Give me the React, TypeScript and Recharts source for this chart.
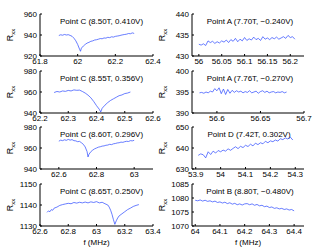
import React from "react";
import { LineChart, Line, XAxis, YAxis, Customized } from "recharts";

// Point C (8.50T, 0.410V)
const fC850 = [61.9, 61.91, 61.92, 61.93, 61.94, 61.95, 61.96, 61.97, 61.98, 61.99, 62.0, 62.01, 62.015, 62.02, 62.03, 62.04, 62.05, 62.06, 62.07, 62.08, 62.09, 62.1, 62.11, 62.12, 62.13, 62.14, 62.15, 62.16, 62.17, 62.18, 62.19, 62.2, 62.21, 62.22, 62.23, 62.24, 62.25, 62.26, 62.27, 62.28, 62.29, 62.3];
const rC850 = [939.5, 940.2, 939.8, 940.5, 940.0, 940.3, 939.6, 938.8, 937.0, 934.5, 931.0, 926.5, 924.5, 927.5, 929.5, 931.0, 932.3, 933.0, 934.0, 934.4, 935.2, 935.5, 936.0, 936.6, 936.4, 937.2, 937.0, 937.8, 937.5, 938.3, 938.0, 938.7, 939.0, 939.3, 939.8, 940.2, 940.5, 940.8, 941.4, 941.2, 942.0, 941.5];

// Point C (8.55T, 0.356V)
const fC855 = [62.25, 62.26, 62.27, 62.28, 62.29, 62.3, 62.31, 62.32, 62.33, 62.34, 62.35, 62.36, 62.37, 62.38, 62.39, 62.4, 62.41, 62.415, 62.42, 62.43, 62.44, 62.45, 62.46, 62.47, 62.48, 62.49, 62.5, 62.51, 62.52];
const rC855 = [959.5, 960.5, 960.0, 961.0, 960.6, 961.5, 961.0, 962.0, 961.6, 961.8, 960.5, 959.0, 957.0, 954.5, 951.0, 947.0, 943.5, 941.0, 944.5, 947.5, 950.0, 952.0, 953.5, 955.0, 956.5, 957.2, 958.5, 959.0, 960.0];

// Point C (8.60T, 0.296V)
const fC860 = [62.6, 62.61, 62.62, 62.63, 62.64, 62.65, 62.66, 62.67, 62.68, 62.69, 62.7, 62.71, 62.72, 62.73, 62.74, 62.75, 62.755, 62.76, 62.77, 62.78, 62.79, 62.8, 62.81, 62.82, 62.83, 62.84, 62.85, 62.86, 62.87, 62.88, 62.89, 62.9, 62.91, 62.92, 62.93, 62.94, 62.95, 62.96, 62.97, 62.98, 62.99, 63.0];
const rC860 = [966.5, 967.5, 967.0, 967.8, 967.3, 968.2, 967.5, 968.0, 967.0, 966.8, 966.0, 966.3, 965.0, 963.5, 961.0, 956.5, 951.5, 954.0, 956.5, 958.0, 959.2, 960.0, 960.8, 961.2, 961.8, 962.0, 962.6, 962.8, 963.5, 963.2, 964.0, 964.3, 964.8, 965.0, 965.6, 965.4, 966.0, 966.4, 966.2, 967.0, 966.8, 967.3];

// Point C (8.65T, 0.250V)
const fC865 = [62.65, 62.66, 62.67, 62.68, 62.69, 62.7, 62.72, 62.74, 62.76, 62.78, 62.8, 62.82, 62.84, 62.86, 62.88, 62.9, 62.92, 62.94, 62.96, 62.98, 63.0, 63.02, 63.04, 63.06, 63.08, 63.09, 63.1, 63.11, 63.12, 63.13, 63.14, 63.15, 63.16, 63.18, 63.2, 63.22, 63.24, 63.26, 63.28, 63.3];
const rC865 = [1136.5, 1137.2, 1136.8, 1137.8, 1137.5, 1138.5, 1139.0, 1139.8, 1140.2, 1140.5, 1140.8, 1140.6, 1141.2, 1140.9, 1141.3, 1141.0, 1141.4, 1141.0, 1141.5, 1141.2, 1141.6, 1141.0, 1141.3, 1140.6, 1140.0, 1139.0, 1137.5, 1135.5, 1133.0, 1130.8, 1132.5, 1133.8, 1134.8, 1135.8, 1136.8, 1137.8, 1138.5, 1139.3, 1139.8, 1140.2];

// Point A (7.70T, -0.240V)
const fA770 = [56.0, 56.005, 56.01, 56.015, 56.02, 56.025, 56.03, 56.035, 56.04, 56.045, 56.05, 56.055, 56.06, 56.065, 56.07, 56.075, 56.08, 56.085, 56.09, 56.095, 56.1, 56.105, 56.11, 56.115, 56.12, 56.125, 56.13, 56.135, 56.14, 56.145, 56.15, 56.155, 56.16, 56.165, 56.17, 56.175, 56.18, 56.185, 56.19, 56.195, 56.2, 56.205, 56.21];
const rA770 = [432.8, 432.6, 432.9, 432.5, 433.6, 433.2, 433.5, 433.0, 433.4, 433.1, 433.6, 433.3, 433.8, 433.2, 433.9, 433.5, 434.2, 433.4, 434.0, 433.6, 434.4, 433.7, 434.1, 433.8, 434.5, 433.9, 434.2, 433.7, 434.6, 434.0, 434.3, 433.9, 434.4, 434.1, 434.5, 434.0, 434.3, 434.6, 434.2, 434.9, 434.4, 434.6, 434.0];

// Point A (7.76T, -0.270V)
const fA776 = [56.58, 56.5825, 56.585, 56.5875, 56.59, 56.5925, 56.595, 56.5975, 56.6, 56.6025, 56.605, 56.6075, 56.61, 56.6125, 56.615, 56.6175, 56.62, 56.6225, 56.625, 56.6275, 56.63, 56.6325, 56.635, 56.6375, 56.64, 56.6425, 56.645, 56.6475, 56.65, 56.6525, 56.655, 56.6575, 56.66, 56.6625, 56.665, 56.6675, 56.67, 56.6725, 56.675, 56.6775, 56.68];
const rA776 = [394.8, 394.9, 394.7, 395.0, 394.8, 395.2, 395.0, 395.8, 395.3, 396.0, 394.6, 395.7, 394.4, 395.6, 394.7, 395.4, 394.9, 395.3, 395.0, 395.2, 394.8, 395.1, 394.9, 395.3, 394.8, 395.0, 395.2, 394.7, 395.1, 395.3, 394.9, 395.2, 394.8, 395.0, 395.1, 394.8, 395.0, 394.9, 395.1, 394.8, 395.0];

// Point D (7.42T, 0.302V)
const fD742 = [53.91, 53.92, 53.93, 53.94, 53.95, 53.96, 53.97, 53.98, 53.99, 54.0, 54.01, 54.02, 54.03, 54.04, 54.05, 54.06, 54.07, 54.08, 54.09, 54.1, 54.11, 54.12, 54.13, 54.14, 54.15, 54.16, 54.17, 54.18, 54.19, 54.2, 54.21, 54.22, 54.23, 54.24, 54.25, 54.26, 54.27, 54.28, 54.29];
const rD742 = [636.5, 637.2, 636.8, 635.3, 638.2, 636.9, 638.5, 637.6, 638.8, 638.2, 639.0, 638.5, 639.6, 638.9, 639.8, 640.6, 639.7, 640.8, 640.2, 641.3, 640.7, 641.8, 641.0, 642.3, 641.6, 642.5, 642.0, 643.2, 642.5, 643.4, 643.0, 643.8, 643.3, 644.4, 644.0, 644.8, 644.3, 645.2, 643.8];

// Point B (8.80T, -0.480V)
const fB880 = [64.0, 64.01, 64.02, 64.03, 64.04, 64.05, 64.06, 64.07, 64.08, 64.09, 64.1, 64.11, 64.12, 64.13, 64.14, 64.15, 64.16, 64.17, 64.18, 64.19, 64.2, 64.21, 64.22, 64.23, 64.24, 64.25, 64.26, 64.27, 64.28, 64.29, 64.3, 64.31, 64.32, 64.33, 64.34, 64.35, 64.36, 64.37, 64.38, 64.39, 64.4];
const rB880 = [1079.2, 1079.0, 1079.3, 1078.9, 1079.2, 1078.8, 1079.0, 1078.6, 1078.9, 1078.4, 1078.6, 1078.2, 1078.5, 1078.0, 1078.3, 1077.8, 1078.1, 1077.6, 1077.9, 1077.5, 1077.9, 1078.0, 1077.6, 1077.9, 1077.4, 1077.7, 1077.2, 1077.4, 1076.9, 1077.1, 1076.6, 1076.8, 1076.3, 1076.5, 1076.1, 1076.3, 1075.9, 1076.1, 1075.7, 1075.9, 1075.4];

// axis ticks
const xTicksC850 = [61.8, 62, 62.2, 62.4];
const xTicksC855 = [62.2, 62.3, 62.4, 62.5, 62.6];
const xTicksC860 = [62.6, 62.8, 63];
const xTicksC865 = [62.6, 62.8, 63, 63.2, 63.4];
const xTicksA770 = [56, 56.05, 56.1, 56.15, 56.2];
const xTicksA776 = [56.6, 56.65, 56.7];
const xTicksD742 = [53.9, 54, 54.1, 54.2, 54.3];
const xTicksB880 = [64, 64.1, 64.2, 64.3, 64.4];

const yTicksC850 = [920, 940, 960];
const yTicksC855 = [940, 960, 980];
const yTicksC860 = [940, 960, 980];
const yTicksC865 = [1130, 1140, 1150];
const yTicksA770 = [430, 435, 440];
const yTicksA776 = [390, 395, 400];
const yTicksD742 = [630, 640, 650];
const yTicksB880 = [1070, 1075, 1080, 1085];

const BOX_H = 42;
const YW = 40;
const MT = 6;
const MR = 10;
const LINE = "#2846ff";
const tickStyle = { fontSize: 8, fill: "#000" };

const zip = (f: number[], r: number[]) => f.map((v, i) => ({ f: v, r: r[i] }));

type PanelProps = {
  boxLeft: number;
  boxTop: number;
  boxW: number;
  f: number[];
  r: number[];
  xDomain: [number, number];
  xTicks: number[];
  yDomain: [number, number];
  yTicks: number[];
  title: string;
  titleDx: number;
  xLabel?: boolean;
};

const Panel = ({ boxLeft, boxTop, boxW, f, r, xDomain, xTicks, yDomain, yTicks, title, titleDx, xLabel }: PanelProps) => {
  const xh = xLabel ? 22 : 12;
  const width = YW + boxW + MR;
  const height = MT + BOX_H + xh;
  const data = zip(f, r);

  return (
    <div style={{ position: "absolute", left: boxLeft - YW, top: boxTop - MT }}>
      <LineChart width={width} height={height} data={data} margin={{ top: MT, right: MR, left: 0, bottom: 0 }}>
        <XAxis
          dataKey="f"
          type="number"
          domain={xDomain}
          ticks={xTicks}
          allowDataOverflow
          interval={0}
          height={xh}
          tickSize={-2}
          tickMargin={4}
          tick={tickStyle}
          stroke="#000"
          label={xLabel ? { value: "f (MHz)", position: "insideBottom", offset: 3, fontSize: 8, fill: "#000" } : undefined}
        />
        <XAxis
          xAxisId="top"
          orientation="top"
          type="number"
          domain={xDomain}
          ticks={xTicks}
          allowDataOverflow
          interval={0}
          height={0}
          tickSize={-2}
          tickFormatter={() => ""}
          stroke="#000"
        />
        <YAxis
          type="number"
          domain={yDomain}
          ticks={yTicks}
          allowDataOverflow
          interval={0}
          width={YW}
          tickSize={-2}
          tickMargin={5}
          tick={tickStyle}
          stroke="#000"
        />
        <YAxis
          yAxisId="right"
          orientation="right"
          type="number"
          domain={yDomain}
          ticks={yTicks}
          allowDataOverflow
          interval={0}
          width={0}
          tickSize={-2}
          tickFormatter={() => ""}
          stroke="#000"
        />
        <Line dataKey="r" stroke={LINE} strokeWidth={0.7} dot={false} isAnimationActive={false} />
        <Customized
          component={() => (
            <g>
              <text x={YW + boxW / 2 + titleDx} y={MT + 10} textAnchor="middle" fontSize={8} fill="#000">
                {title}
              </text>
              <text
                x={YW - 27}
                y={MT + BOX_H / 2}
                textAnchor="middle"
                fontSize={9}
                fill="#000"
                transform={`rotate(-90, ${YW - 27}, ${MT + BOX_H / 2})`}
              >
                R
                <tspan fontSize={6} dy={2}>
                  xx
                </tspan>
              </text>
            </g>
          )}
        />
      </LineChart>
    </div>
  );
};

const L = 40;
const LW = 113;
const R = 192;
const RW = 112;
const ROWS = [14, 71, 127, 184];

export default function App() {
  return (
    <div
      style={{
        position: "absolute",
        left: 0,
        top: 0,
        width: 332,
        height: 250,
        background: "#fff",
        fontFamily: '"Liberation Sans", Arial, Helvetica, sans-serif',
      }}
    >
      <Panel boxLeft={L} boxTop={ROWS[0]} boxW={LW} f={fC850} r={rC850} xDomain={[61.8, 62.4]} xTicks={xTicksC850} yDomain={[920, 960]} yTicks={yTicksC850} title="Point C (8.50T, 0.410V)" titleDx={5} />
      <Panel boxLeft={L} boxTop={ROWS[1]} boxW={LW} f={fC855} r={rC855} xDomain={[62.2, 62.6]} xTicks={xTicksC855} yDomain={[940, 980]} yTicks={yTicksC855} title="Point C (8.55T, 0.356V)" titleDx={5} />
      <Panel boxLeft={L} boxTop={ROWS[2]} boxW={LW} f={fC860} r={rC860} xDomain={[62.5, 63.1]} xTicks={xTicksC860} yDomain={[940, 980]} yTicks={yTicksC860} title="Point C (8.60T, 0.296V)" titleDx={5} />
      <Panel boxLeft={L} boxTop={ROWS[3]} boxW={LW} f={fC865} r={rC865} xDomain={[62.6, 63.4]} xTicks={xTicksC865} yDomain={[1130, 1150]} yTicks={yTicksC865} title="Point C (8.65T, 0.250V)" titleDx={5} xLabel />
      <Panel boxLeft={R} boxTop={ROWS[0]} boxW={RW} f={fA770} r={rA770} xDomain={[55.985, 56.23]} xTicks={xTicksA770} yDomain={[430, 440]} yTicks={yTicksA770} title="Point A (7.70T, −0.240V)" titleDx={2} />
      <Panel boxLeft={R} boxTop={ROWS[1]} boxW={RW} f={fA776} r={rA776} xDomain={[56.5714, 56.7]} xTicks={xTicksA776} yDomain={[390, 400]} yTicks={yTicksA776} title="Point A (7.76T, −0.270V)" titleDx={2} />
      <Panel boxLeft={R} boxTop={ROWS[2]} boxW={RW} f={fD742} r={rD742} xDomain={[53.885, 54.335]} xTicks={xTicksD742} yDomain={[630, 650]} yTicks={yTicksD742} title="Point D (7.42T, 0.302V)" titleDx={1} />
      <Panel boxLeft={R} boxTop={ROWS[3]} boxW={RW} f={fB880} r={rB880} xDomain={[63.987, 64.44]} xTicks={xTicksB880} yDomain={[1070, 1085]} yTicks={yTicksB880} title="Point B (8.80T, −0.480V)" titleDx={2} xLabel />
    </div>
  );
}
